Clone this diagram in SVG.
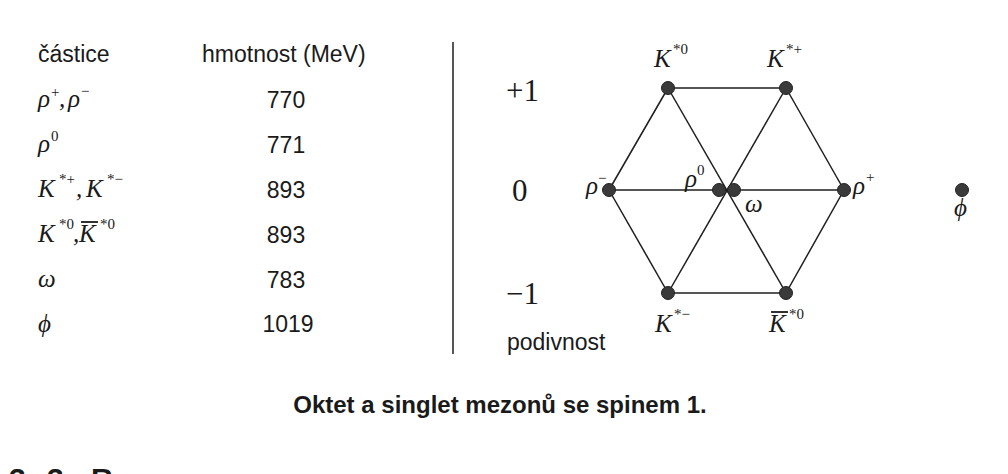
<svg xmlns="http://www.w3.org/2000/svg" width="1008" height="474" viewBox="0 0 1008 474">
<style>
.sans{font-family:"Liberation Sans",Arial,sans-serif;fill:#1a1a1a}
.tbl{font-size:23px}
.num{font-size:23px;text-anchor:middle}
.ser{font-family:"Liberation Serif","Times New Roman",serif;fill:#1a1a1a}
.it{font-style:italic;font-size:25px}
.sup{font-size:15px}
.axis{font-size:31px}
.edge{stroke:#1e1e1e;stroke-width:1.5;fill:none}
.dot{fill:#3a3a3a;stroke:#222;stroke-width:1}
.cap{font-size:24px;font-weight:bold;text-anchor:middle}
</style>
<rect width="1008" height="474" fill="#fff"/>

<g id="table">
<text class="sans tbl" x="38" y="62">částice</text>
<text class="sans tbl" x="202" y="62">hmotnost (MeV)</text>

<text class="ser it" x="38" y="107">ρ</text><text class="ser sup" x="51" y="97">+</text><text class="ser it" x="59" y="107">,</text><text class="ser it" x="68" y="107">ρ</text><text class="ser sup" x="81" y="96">−</text>
<text class="sans num" x="286" y="108">770</text>

<text class="ser it" x="38" y="152">ρ</text><text class="ser sup" x="51" y="141">0</text>
<text class="sans num" x="286" y="153">771</text>

<text class="ser it" x="38" y="197">K</text><text class="ser sup" x="59" y="184">*+</text><text class="ser it" x="76" y="197">,</text><text class="ser it" x="86" y="197">K</text><text class="ser sup" x="107" y="184">*−</text>
<text class="sans num" x="286" y="198">893</text>

<text class="ser it" x="38" y="242">K</text><text class="ser sup" x="59" y="229">*0</text><text class="ser it" x="73" y="242">,</text><text class="ser it" x="79" y="242">K</text><line x1="81" y1="222" x2="98" y2="222" stroke="#1a1a1a" stroke-width="1.8"/><text class="ser sup" x="100" y="229">*0</text>
<text class="sans num" x="286" y="243">893</text>

<text class="ser it" x="38" y="287">ω</text>
<text class="sans num" x="286" y="288">783</text>

<text class="ser it" x="38" y="332">ϕ</text>
<text class="sans num" x="288" y="332">1019</text>
</g>

<line id="divider" x1="453" y1="42" x2="453" y2="354" stroke="#1e1e1e" stroke-width="1.5"/>

<g id="axis">
<text class="ser axis" x="506" y="101">+1</text>
<text class="ser axis" x="512" y="201">0</text>
<text class="ser axis" x="506" y="304">−1</text>
<text class="sans tbl" x="507" y="350">podivnost</text>
</g>

<g id="connectors">
<line class="edge" x1="668" y1="88" x2="786" y2="88"/>
<line class="edge" x1="668" y1="293" x2="786" y2="293"/>
<line class="edge" x1="609" y1="190" x2="844" y2="190"/>
<line class="edge" x1="668" y1="88" x2="609" y2="190"/>
<line class="edge" x1="609" y1="190" x2="668" y2="293"/>
<line class="edge" x1="786" y1="88" x2="844" y2="190"/>
<line class="edge" x1="844" y1="190" x2="786" y2="293"/>
<line class="edge" x1="668" y1="88" x2="786" y2="293"/>
<line class="edge" x1="786" y1="88" x2="668" y2="293"/>
</g>

<g id="K0">
<circle class="dot" cx="668" cy="88" r="6.5"/>
<text class="ser it" x="654" y="67">K</text><text class="ser sup" x="673" y="54">*0</text>
</g>
<g id="Kplus">
<circle class="dot" cx="786" cy="88" r="6.5"/>
<text class="ser it" x="767" y="67">K</text><text class="ser sup" x="786" y="54">*+</text>
</g>
<g id="rhominus">
<circle class="dot" cx="609" cy="190" r="6.5"/>
<text class="ser it" x="586" y="194">ρ</text><text class="ser sup" x="598" y="183">−</text>
</g>
<g id="rho0">
<circle class="dot" cx="719" cy="190" r="6.5"/>
<text class="ser it" x="685" y="187">ρ</text><text class="ser sup" x="697" y="175">0</text>
</g>
<g id="omega">
<circle class="dot" cx="734" cy="190" r="6.5"/>
<text class="ser it" x="745" y="212">ω</text>
</g>
<g id="rhoplus">
<circle class="dot" cx="844" cy="190" r="6.5"/>
<text class="ser it" x="853" y="194">ρ</text><text class="ser sup" x="866" y="182">+</text>
</g>
<g id="Kminus">
<circle class="dot" cx="668" cy="293" r="6.5"/>
<text class="ser it" x="655" y="332">K</text><text class="ser sup" x="674" y="319">*−</text>
</g>
<g id="K0bar">
<circle class="dot" cx="786" cy="293" r="6.5"/>
<text class="ser it" x="769" y="332">K</text><line x1="771" y1="312" x2="788" y2="312" stroke="#1a1a1a" stroke-width="1.8"/><text class="ser sup" x="789" y="319">*0</text>
</g>
<g id="phi">
<circle class="dot" cx="962" cy="190" r="6.5"/>
<text class="ser it" x="954" y="216">ϕ</text>
</g>

<text class="sans cap" x="500" y="413">Oktet a singlet mezonů se spinem 1.</text>
<text class="sans" x="9 32 47 91" y="489" font-size="30" font-weight="bold">3.3R</text>
</svg>
